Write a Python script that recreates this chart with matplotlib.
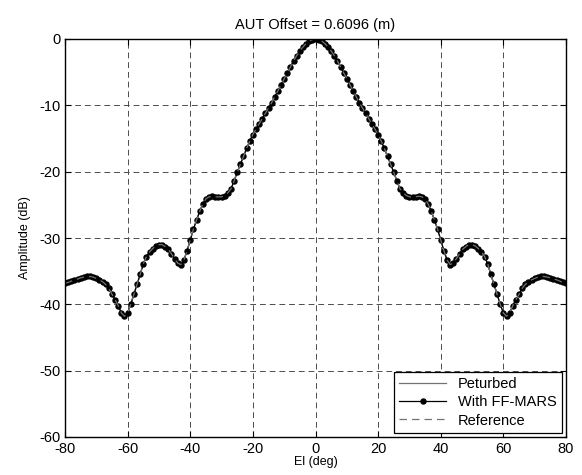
import matplotlib.pyplot as plt
import numpy as np

plt.rcParams['font.family'] = ['Liberation Sans', 'DejaVu Sans']
plt.rcParams['axes.unicode_minus'] = False

el_deg = np.arange(-80, 81, 1)

amplitude_db = [
    -36.8, -36.7, -36.5, -36.3, -36.2, -36.0, -35.9, -35.8, -35.8, -35.9,
    -36.1, -36.3, -36.6, -37.0, -37.6, -38.5, -39.3, -40.2, -41.3, -41.8,
    -41.3, -40.0, -38.5, -37.0, -35.5, -33.9, -32.8, -32.1, -31.6, -31.2,
    -31.0, -31.0, -31.3, -31.7, -32.4, -33.1, -33.8, -34.0, -33.3, -31.9,
    -30.3, -28.7, -27.3, -26.0, -24.9, -24.1, -23.8, -23.7, -23.8, -23.8,
    -23.8, -23.6, -23.2, -22.6, -21.4, -20.1, -18.9, -17.7, -16.5, -15.4,
    -14.4, -13.6, -12.8, -12.0, -11.2, -10.4, -9.6, -8.7, -7.8, -6.9,
    -6.0, -5.1, -4.2, -3.3, -2.5, -1.8, -1.2, -0.7, -0.3, -0.1,
    0.0,
    -0.1, -0.3, -0.7, -1.2, -1.8, -2.5, -3.3, -4.2, -5.1, -6.0,
    -6.9, -7.8, -8.7, -9.6, -10.4, -11.2, -12.0, -12.8, -13.6, -14.4,
    -15.4, -16.5, -17.7, -18.9, -20.1, -21.4, -22.6, -23.2, -23.6, -23.8,
    -23.8, -23.8, -23.7, -23.8, -24.1, -24.9, -26.0, -27.3, -28.7, -30.3,
    -31.9, -33.3, -34.0, -33.8, -33.1, -32.4, -31.7, -31.3, -31.0, -31.0,
    -31.2, -31.6, -32.1, -32.8, -33.9, -35.5, -37.0, -38.5, -40.0, -41.3,
    -41.8, -41.3, -40.2, -39.3, -38.5, -37.6, -37.0, -36.6, -36.3, -36.1,
    -35.9, -35.8, -35.8, -35.9, -36.0, -36.2, -36.3, -36.5, -36.7, -36.8,
]

fig = plt.figure(figsize=(5.82, 4.75), dpi=100)
ax = fig.add_axes([65 / 582, 38 / 475, 501 / 582, 398 / 475])

ax.plot(el_deg, amplitude_db, color='0.45', linewidth=0.9, label='Peturbed')
ax.plot(el_deg, amplitude_db, color='k', linewidth=0.9, marker='o',
        markersize=3.6, label='With FF-MARS')
ax.plot(el_deg, amplitude_db, color='0.45', linewidth=0.9,
        linestyle=(0, (6, 4)), label='Reference')

ax.set_xlim(-80, 80)
ax.set_ylim(-60, 0)
ax.set_xticks(np.arange(-80, 81, 20))
ax.set_yticks(np.arange(-60, 1, 10))
ax.tick_params(direction='in', top=True, right=True, labelsize=10.5,
               length=4, width=0.8)
ax.grid(True, color='0.3', linestyle=(0, (6, 4)), linewidth=0.7)
for s in ax.spines.values():
    s.set_linewidth(1.0)

ax.set_title('AUT Offset = 0.6096 (m)', fontsize=10.5, pad=7)
ax.set_xlabel('El (deg)', fontsize=9, labelpad=0)
ax.set_ylabel('Amplitude (dB)', fontsize=9, labelpad=6)

leg = ax.legend(loc='lower right', fontsize=10.5, handlelength=3.2,
                fancybox=False, edgecolor='k', framealpha=1,
                borderaxespad=0.3, labelspacing=0.3, borderpad=0.35)
leg.get_frame().set_linewidth(0.9)

fig.savefig('out.png', dpi=100)
